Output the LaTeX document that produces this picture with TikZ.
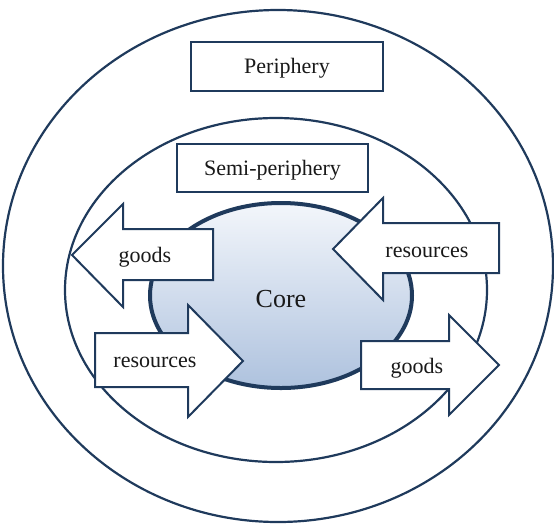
\documentclass[tikz,border=0pt]{standalone}
\usepackage{fontspec}
\setmainfont{Liberation Serif}
\usetikzlibrary{positioning}
\definecolor{navy}{HTML}{1F3A5C}
\definecolor{coretop}{HTML}{F3F6FB}
\definecolor{coremid}{HTML}{C6D5E9}
\definecolor{corebot}{HTML}{AEC2DE}

\begin{document}
\begin{tikzpicture}[x=1pt, y=-1pt, line width=2pt,
    every node/.style={font=\fontsize{22}{26}\selectfont, text=black!90},
    ring/.style={draw=navy, line width=2.2pt},
    labelbox/.style={draw=navy, fill=white, line width=2pt, minimum width=192pt, minimum height=49pt},
    blockarrow/.style={draw=navy, fill=white, line width=2pt, line join=miter}]
    \useasboundingbox (0,0) rectangle (554,523);
    % rings
    \draw[ring] (278,266) ellipse [x radius=275pt, y radius=256pt];
    \draw[ring] (276,290) ellipse [x radius=211pt, y radius=172pt];
    \draw[draw=navy, line width=4pt, top color=coretop, middle color=coremid, bottom color=corebot] (281,295.5) ellipse [x radius=131pt, y radius=92.5pt];
    \node[font=\fontsize{26}{30}\selectfont] (core) at (281,299) {Core};
    % boxes
    \node[labelbox] (peri) at (287,66.5) {};
    \node (peritext) at (287,68.5) {Periphery};
    \node[labelbox, minimum width=191pt, minimum height=48pt] (semi) at (272.5,168) {};
    \node (semitext) at (272.5,170) {Semi-periphery};
    % arrows
    \draw[blockarrow] (72,255) -- (123,204) -- (123,229) -- (213,229) -- (213,280) -- (123,280) -- (123,307) -- cycle;
    \draw[blockarrow] (95,333) -- (188,333) -- (188,305) -- (243,361) -- (188,417) -- (188,387) -- (95,387) -- cycle;
    \draw[blockarrow] (333,249) -- (383,198) -- (383,223) -- (499,223) -- (499,273) -- (383,273) -- (383,300) -- cycle;
    \draw[blockarrow] (361,341) -- (449,341) -- (449,315) -- (499,365) -- (449,415) -- (449,389) -- (361,389) -- cycle;
    \node (goodsout) at (145,257) {goods};
    \node (resin) at (155,362) {resources};
    \node (resout) at (427,252) {resources};
    \node (goodsin) at (417,368) {goods};
\end{tikzpicture}
\end{document}
